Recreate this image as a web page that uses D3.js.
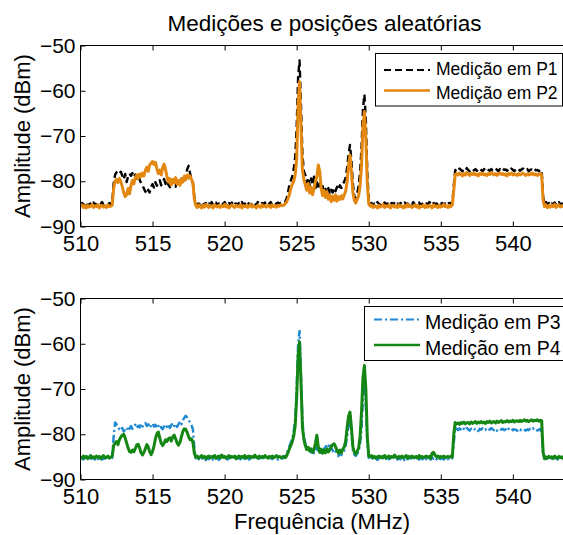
<!DOCTYPE html>
<html>
<head>
<meta charset="utf-8">
<script src="https://cdn.jsdelivr.net/npm/d3@7"></script>
<style>
  html, body { margin: 0; padding: 0; background: #fff; overflow: hidden; }
  svg { display: block; }
  text { font-family: "Liberation Sans", Arial, Helvetica, sans-serif; fill: #000; }
</style>
</head>
<body>
<svg id="chart" width="563" height="535"></svg>
<script>
// Spectrum sweep: 510.0 .. 544.0 MHz, one sample every 100 kHz
const freqStart = 510, freqStep = 0.1, sampleCount = 341;
const xTicks = [510, 515, 520, 525, 530, 535, 540];
const yTicks = [-50, -60, -70, -80, -90];

const chartTitle = "Medições e posições aleatórias";
const xLabel = "Frequência (MHz)";
const yLabel = "Amplitude (dBm)";
const seriesNames = ["Medição em P1", "Medição em P2", "Medição em P3", "Medição em P4"];

// Measured amplitude (dBm) at position P1
const p1 = [
-85.2,-84.8,-85.3,-85.0,-84.6,-85.4,-85.1,-84.9,-85.3,-84.7,-85.0,-85.4,-84.8,-85.2,-85.0,-84.6,-85.3,-84.9,-85.1,-85.4,-84.8,-85.0,-84.7,
-80.5,-78.6,-78.0,-77.8,-78.3,-77.9,-78.8,-79.6,-78.4,-80.2,
-79.0,-78.3,-78.8,-78.2,-79.1,-78.5,-79.4,-78.7,-79.6,-80.4,
-80.9,-81.6,-82.3,-82.8,-81.9,-82.5,-81.2,-80.6,-81.4,-80.2,
-81.0,-80.4,-79.8,-80.9,-80.1,-79.5,-80.6,-79.9,-80.8,-81.3,
-80.2,-79.6,-80.7,-81.2,-80.0,-80.9,-80.3,-79.4,-80.2,-79.1,
-78.6,-77.4,-76.6,-78.2,-79.5,-80.4,-83.5,
-84.6,-85.3,-84.9,-85.2,-84.7,-85.4,-85.0,-84.8,-85.3,-84.9,
-85.1,-84.6,-85.2,-85.0,-84.7,-85.4,-84.9,-85.2,-84.8,-85.1,
-84.6,-85.3,-85.0,-84.8,-85.2,-84.7,-85.4,-85.0,-84.9,-85.3,
-84.8,-85.1,-84.6,-85.2,-84.9,-85.3,-84.7,-85.0,-85.4,-84.8,
-85.1,-84.9,-85.3,-84.6,-85.0,-85.2,-84.8,-85.1,-84.7,-85.3,
-84.9,-85.0,-84.6,-85.2,-84.8,-85.1,-84.9,-84.7,-85.0,-84.8,
-84.9,-84.7,
-84.6,-83.8,-82.5,-80.6,-79.8,-78.9,-77.2,-74.5,-68.0,-57.0,
-53.3,-63.5,-74.0,-77.8,-78.6,-80.4,-79.2,-81.0,-79.4,-80.8,
-79.0,-81.5,-80.2,-81.8,-80.5,-82.0,-81.1,-82.6,-81.7,-82.4,
-81.5,-82.8,-81.9,-82.5,-81.4,-82.2,-81.2,-81.8,-80.9,-81.5,
-80.6,-80.1,-79.2,-77.0,-74.0,-72.0,-75.5,-80.5,-83.2,-83.8,
-82.6,-81.0,-78.0,-72.5,-64.0,-60.8,-66.5,-78.0,-84.2,
-85.1,-84.8,-85.3,-84.9,-85.2,-84.6,-85.0,-85.3,-84.8,-85.1,
-84.7,-85.2,-84.9,-85.4,-85.0,-84.8,-85.2,-84.6,-85.1,-84.9,
-85.3,-84.8,-85.0,-85.2,-84.7,-85.1,-84.9,-85.3,-84.8,-85.0,
-84.6,-85.2,-84.9,-85.1,-84.7,-85.3,-85.0,-84.8,-85.2,-84.9,
-85.1,-84.6,-85.0,-85.3,-84.8,-85.1,-84.9,-85.2,-84.7,-85.0,
-84.8,-85.2,-84.9,-85.1,-84.6,-85.0,-84.8,-84.9,
-81.0,-77.6,-77.3,-77.7,-77.2,-77.5,-77.8,-77.3,-77.6,-77.1,
-77.5,-77.8,-77.4,-77.2,-77.6,-77.3,-77.7,-77.4,-77.1,-77.5,
-77.8,-77.3,-77.6,-77.2,-77.5,-77.7,-77.3,-77.6,-77.4,-77.1,
-77.5,-77.8,-77.3,-77.6,-77.2,-77.5,-77.4,-77.7,-77.3,-77.6,
-77.2,-77.5,-77.8,-77.4,-77.6,-77.3,-77.7,-77.4,-77.2,-77.5,
-77.6,-77.3,-77.8,-77.5,-77.4,-77.7,-77.3,-77.6,-77.5,-77.8,
-77.4,-77.7,
-83.5,-85.0,-84.6,-85.2,-84.8,-85.3,-84.9,-85.1,-84.7,-85.2,
-85.0,-84.6,-85.3,-84.9,-85.1,-84.8,-85.2,-84.9,-85.0,-84.7
];

// Measured amplitude (dBm) at position P2
const p2 = [
-85.6,-85.2,-85.8,-85.4,-85.9,-85.3,-85.7,-85.5,-85.1,-85.8,
-85.4,-85.6,-85.2,-85.9,-85.5,-85.3,-85.7,-85.4,-85.8,-85.2,
-85.6,-85.5,-85.3,
-81.5,-80.0,-79.6,-80.3,-79.4,-80.1,-81.2,-82.5,-83.4,-83.0,
-81.6,-82.8,-81.0,-79.8,-80.6,-79.2,-78.6,-79.4,-78.4,-79.0,
-78.2,-78.8,-77.6,-76.9,-77.8,-76.4,-76.0,-75.6,-76.3,-75.8,
-77.2,-78.3,-77.5,-78.6,-77.0,-76.2,-77.4,-79.0,-80.2,-79.4,
-80.8,-79.6,-80.4,-79.2,-80.6,-79.8,-80.9,-79.5,-80.2,-78.9,
-79.7,-78.6,-79.3,-78.8,-79.6,-80.3,-84.0,
-85.4,-85.8,-85.2,-85.6,-85.9,-85.3,-85.7,-85.1,-85.5,-85.8,
-85.3,-85.6,-85.9,-85.2,-85.5,-85.7,-85.3,-85.8,-85.4,-85.6,
-85.1,-85.7,-85.4,-85.9,-85.5,-85.2,-85.6,-85.8,-85.3,-85.5,
-85.7,-85.2,-85.9,-85.4,-85.6,-85.3,-85.8,-85.5,-85.1,-85.7,
-85.4,-85.6,-85.9,-85.3,-85.5,-85.8,-85.2,-85.6,-85.4,-85.7,
-85.3,-85.5,-85.8,-85.2,-85.6,-85.4,-85.7,-85.3,-85.5,-85.2,
-85.4,-85.3,
-85.0,-84.6,-83.8,-82.9,-81.5,-80.6,-80.0,-78.5,-75.0,-63.0,
-58.0,-68.0,-77.5,-79.6,-80.8,-82.0,-80.5,-82.6,-81.3,-83.0,
-81.6,-80.2,-79.0,-76.4,-77.8,-81.5,-83.2,-82.0,-83.6,-82.3,
-84.0,-83.1,-84.5,-83.3,-84.2,-83.0,-84.4,-83.4,-84.0,-83.2,
-83.9,-83.0,-82.2,-80.0,-76.5,-74.2,-78.0,-82.5,-84.2,-84.8,
-84.0,-83.2,-81.0,-76.5,-68.0,-64.6,-70.5,-80.5,-85.0,
-85.5,-85.2,-85.8,-85.4,-85.6,-85.9,-85.3,-85.7,-85.5,-85.1,
-85.8,-85.4,-85.6,-85.2,-85.9,-85.5,-85.3,-85.7,-85.4,-85.8,
-85.2,-85.6,-85.5,-85.9,-85.3,-85.7,-85.1,-85.6,-85.4,-85.8,
-85.5,-85.2,-85.7,-85.3,-85.9,-85.5,-85.6,-85.2,-85.8,-85.4,
-85.7,-85.3,-85.5,-85.9,-85.2,-85.6,-85.4,-85.8,-85.3,-85.7,
-85.5,-85.1,-85.6,-85.4,-85.8,-85.3,-85.6,-85.2,
-82.0,-78.5,-78.3,-78.6,-78.2,-78.5,-78.8,-78.3,-78.6,-78.1,
-78.4,-78.7,-78.3,-78.5,-78.2,-78.6,-78.4,-78.8,-78.3,-78.5,
-78.2,-78.6,-78.4,-78.7,-78.3,-78.5,-78.1,-78.4,-78.6,-78.3,
-78.7,-78.4,-78.2,-78.5,-78.3,-78.6,-78.4,-78.8,-78.3,-78.5,
-78.2,-78.6,-78.4,-78.5,-78.7,-78.3,-78.6,-78.4,-78.2,-78.5,
-78.7,-78.4,-78.6,-78.3,-78.5,-78.2,-78.6,-78.4,-78.7,-78.5,
-78.3,-78.6,
-84.2,-85.6,-85.2,-85.8,-85.4,-85.7,-85.3,-85.6,-85.1,-85.8,
-85.5,-85.2,-85.7,-85.4,-85.6,-85.3,-85.8,-85.5,-85.2,-85.6
];

// Measured amplitude (dBm) at position P3
const p3 = [
-85.4,-85.1,-85.6,-85.2,-85.5,-85.0,-85.7,-85.3,-85.4,-85.1,
-85.6,-85.2,-85.5,-85.3,-85.0,-85.6,-85.4,-85.2,-85.7,-85.3,
-85.1,-85.5,-85.2,
-80.5,-77.4,-77.8,-78.3,-78.9,-79.2,-78.6,-79.4,-79.0,-78.5,
-79.3,-78.7,-78.2,-78.8,-78.4,-77.9,-78.6,-78.1,-78.5,-77.7,
-78.3,-78.0,-77.5,-78.2,-77.8,-78.6,-78.1,-77.6,-78.3,-77.9,
-78.7,-78.2,-77.8,-78.5,-78.9,-78.3,-77.8,-78.4,-77.9,-78.6,
-78.0,-77.5,-78.2,-77.7,-78.4,-77.8,-77.2,-77.8,-76.9,-76.4,
-75.9,-76.3,-76.8,-77.4,-78.0,-78.9,-83.0,
-85.3,-85.0,-85.5,-85.2,-85.6,-85.1,-85.4,-85.7,-85.2,-85.5,
-85.0,-85.3,-85.6,-85.2,-85.4,-85.1,-85.7,-85.3,-85.5,-85.0,
-85.4,-85.2,-85.6,-85.3,-85.1,-85.5,-85.4,-85.0,-85.6,-85.2,
-85.3,-85.5,-85.1,-85.7,-85.2,-85.4,-85.0,-85.6,-85.3,-85.2,
-85.5,-85.1,-85.4,-85.6,-85.2,-85.3,-85.0,-85.5,-85.4,-85.1,
-85.6,-85.3,-85.2,-85.5,-85.0,-85.4,-85.3,-85.6,-85.1,-85.2,
-85.4,-85.1,
-85.0,-84.4,-83.5,-82.6,-81.8,-80.9,-79.2,-76.5,-70.0,-60.0,
-57.2,-67.0,-77.0,-80.5,-82.0,-83.2,-82.6,-83.5,-84.0,-83.4,
-84.2,-83.6,-82.8,-83.8,-84.3,-83.7,-84.0,-83.2,-82.8,-82.2,
-82.6,-82.0,-82.9,-83.6,-84.2,-83.8,-84.4,-84.8,-84.2,-84.6,
-84.0,-83.6,-82.5,-80.5,-78.0,-76.5,-79.5,-83.5,-84.5,-84.8,
-84.3,-83.8,-82.0,-79.0,-72.0,-67.0,-74.0,-82.0,-85.2,
-85.3,-85.6,-85.1,-85.4,-85.2,-85.7,-85.3,-85.0,-85.5,-85.2,
-85.6,-85.4,-85.1,-85.5,-85.3,-85.7,-85.2,-85.4,-85.0,-85.6,
-85.3,-85.5,-85.1,-85.4,-85.7,-85.2,-85.5,-85.3,-85.0,-85.6,
-85.4,-85.2,-85.5,-85.1,-85.6,-85.3,-85.4,-85.7,-85.2,-85.5,
-85.0,-85.3,-85.6,-85.2,-85.4,-85.1,-85.5,-85.3,-85.7,-85.2,
-85.4,-85.6,-85.1,-85.3,-85.5,-85.2,-85.4,-85.3,
-82.0,-78.6,-78.8,-79.1,-78.7,-79.0,-79.3,-78.8,-79.1,-78.6,
-78.9,-79.2,-78.8,-79.0,-78.7,-79.1,-78.9,-79.3,-78.8,-79.0,
-78.7,-79.1,-78.9,-79.2,-78.8,-79.0,-78.6,-78.9,-79.1,-78.8,
-79.2,-78.9,-78.7,-79.0,-78.8,-79.1,-78.9,-79.3,-78.8,-79.0,
-78.7,-79.1,-78.9,-79.0,-79.2,-78.8,-79.1,-78.9,-78.7,-79.0,
-79.2,-78.9,-79.1,-78.8,-79.0,-78.7,-79.1,-78.9,-79.2,-79.0,
-78.8,-79.6,
-84.5,-85.2,-85.5,-85.1,-85.4,-85.6,-85.2,-85.5,-85.0,-85.3,
-85.6,-85.2,-85.4,-85.1,-85.5,-85.3,-85.6,-85.2,-85.4,-85.3
];

// Measured amplitude (dBm) at position P4
const p4 = [
-85.0,-85.3,-84.8,-85.2,-84.9,-85.4,-85.1,-84.7,-85.2,-85.0,
-85.3,-84.8,-85.1,-84.9,-85.4,-85.0,-84.7,-85.2,-85.1,-84.8,
-85.3,-85.0,-84.9,
-82.5,-82.0,-81.6,-82.3,-81.2,-80.6,-80.2,-80.0,-80.8,-81.9,
-83.0,-83.8,-84.0,-83.5,-83.9,-83.2,-82.4,-82.2,-83.0,-84.1,
-84.6,-84.0,-83.2,-82.3,-82.8,-83.9,-84.5,-83.8,-82.6,-81.0,
-79.9,-79.5,-80.8,-82.0,-82.5,-82.0,-81.2,-81.6,-81.0,-80.8,
-81.5,-80.6,-80.2,-81.0,-81.9,-82.4,-81.8,-80.6,-79.4,-78.8,
-78.9,-79.6,-80.5,-81.2,-81.0,-81.8,-84.2,
-85.1,-84.8,-85.3,-85.0,-84.7,-85.2,-84.9,-85.4,-85.0,-84.8,
-85.2,-84.9,-85.1,-84.7,-85.3,-85.0,-84.8,-85.2,-84.6,-85.1,
-84.9,-85.3,-85.0,-84.7,-85.2,-84.9,-85.1,-84.8,-85.4,-85.0,
-84.8,-85.2,-84.9,-85.1,-84.7,-85.3,-85.0,-84.8,-85.2,-84.9,
-85.1,-84.6,-85.0,-85.3,-84.8,-85.1,-84.9,-85.2,-84.7,-85.0,
-85.3,-84.9,-85.1,-84.8,-85.2,-85.0,-84.7,-85.1,-84.9,-85.2,
-85.0,-84.9,
-85.2,-84.8,-84.0,-83.2,-82.4,-81.6,-80.3,-78.0,-72.0,-62.5,
-59.6,-68.5,-78.5,-81.2,-82.5,-83.4,-82.9,-83.7,-83.2,-84.0,
-83.4,-82.0,-80.2,-82.8,-84.0,-83.3,-84.2,-83.5,-84.1,-83.2,
-83.9,-83.4,-82.7,-82.3,-82.1,-82.8,-83.6,-84.2,-83.5,-84.1,
-83.3,-82.8,-81.5,-78.5,-76.0,-75.1,-78.5,-82.8,-84.0,-84.4,
-83.8,-83.0,-80.5,-75.0,-67.5,-64.8,-70.0,-80.5,-84.8,
-85.0,-84.7,-85.2,-84.9,-85.3,-85.0,-84.8,-85.2,-84.9,-85.1,
-84.7,-85.3,-85.0,-84.8,-85.2,-84.9,-85.1,-84.6,-85.0,-85.3,
-84.9,-85.1,-84.8,-85.2,-85.0,-84.7,-85.3,-84.9,-85.1,-84.8,
-85.2,-85.0,-84.9,-85.3,-84.7,-85.1,-84.9,-85.2,-85.0,-84.8,
-85.1,-84.9,-85.3,-84.2,-84.0,-84.6,-85.0,-84.8,-85.2,-84.9,
-85.1,-84.8,-85.2,-85.0,-84.9,-85.1,-84.8,-85.0,
-80.0,-77.4,-77.7,-77.5,-77.8,-77.4,-77.6,-77.3,-77.7,-77.5,
-77.4,-77.7,-77.3,-77.6,-77.4,-77.2,-77.6,-77.3,-77.5,-77.2,
-77.5,-77.3,-77.6,-77.2,-77.4,-77.1,-77.5,-77.3,-77.2,-77.5,
-77.1,-77.4,-77.2,-77.0,-77.4,-77.2,-77.3,-77.0,-77.3,-77.1,
-77.2,-76.9,-77.3,-77.1,-77.0,-77.2,-76.9,-77.2,-77.0,-76.8,
-77.1,-76.9,-77.2,-77.0,-76.8,-77.1,-76.9,-77.0,-76.8,-77.1,
-76.9,-77.0,
-84.0,-85.4,-85.0,-85.3,-84.9,-85.2,-85.0,-85.4,-84.8,-85.1,
-85.3,-84.9,-85.2,-85.0,-85.4,-84.8,-85.1,-85.3,-84.9,-85.2
];

const freq = d3.range(sampleCount).map(i => +(freqStart + i * freqStep).toFixed(1));

const svg = d3.select("#chart");

const plotLeft = 80.5, plotRight = 570.5;
const x = d3.scaleLinear().domain([510, 544]).range([plotLeft, plotRight]);

const panels = [
  {
    top: 45.5, bottom: 226.5,
    series: [
      { values: p1, name: seriesNames[0], color: "#000000", width: 2.4, dash: "7,4" },
      { values: p2, name: seriesNames[1], color: "#E3870E", width: 3, dash: null }
    ],
    legend: { x: 375.5, y: 53.5, w: 187, h: 52.5, lineX0: 384, lineX1: 430, textX: 436,
              rows: [70, 90.5], baselines: [75, 98.5], fontSize: 17.5, lineWidths: [2, 2.5] }
  },
  {
    top: 298.5, bottom: 479.5,
    series: [
      { values: p3, name: seriesNames[2], color: "#1E88D0", width: 2.4, dash: "8,3,2,3" },
      { values: p4, name: seriesNames[3], color: "#148614", width: 3, dash: null }
    ],
    legend: { x: 364.5, y: 306.5, w: 205, h: 54, lineX0: 374, lineX1: 420, textX: 425,
              rows: [319.5, 345], baselines: [329, 354.5], fontSize: 19.5, lineWidths: [2, 2.5] }
  }
];

panels.forEach((p, k) => {
  const y = d3.scaleLinear().domain([-90, -50]).range([p.bottom, p.top]);
  const g = svg.append("g");

  const clipId = "clip" + k;
  svg.append("clipPath").attr("id", clipId)
    .append("rect")
    .attr("x", plotLeft).attr("y", p.top)
    .attr("width", plotRight - plotLeft).attr("height", p.bottom - p.top);

  // traces
  const line = d3.line()
    .x((d, i) => x(freq[i]))
    .y(d => y(d));

  const traces = g.append("g").attr("clip-path", `url(#${clipId})`);
  p.series.forEach(s => {
    traces.append("path")
      .datum(s.values)
      .attr("d", line)
      .attr("fill", "none")
      .attr("stroke", s.color)
      .attr("stroke-width", s.width)
      .attr("stroke-linejoin", "round")
      .attr("stroke-dasharray", s.dash);
  });

  // axes with inward ticks
  const axisStyle = sel => {
    sel.select(".domain").remove();
    sel.selectAll(".tick line").attr("stroke", "#000").attr("stroke-width", 1);
  };

  g.append("g")
    .attr("transform", `translate(0,${p.bottom})`)
    .call(d3.axisBottom(x).tickValues(xTicks).tickSize(-5).tickSizeOuter(0).tickPadding(9))
    .call(axisStyle)
    .call(a => a.selectAll(".tick text")
      .attr("font-size", 22).attr("font-family", null).attr("fill", "#000"));

  g.append("g")
    .attr("transform", `translate(0,${p.top})`)
    .call(d3.axisTop(x).tickValues(xTicks).tickSize(-5).tickSizeOuter(0).tickFormat(""))
    .call(axisStyle);

  g.append("g")
    .attr("transform", `translate(${plotLeft},0)`)
    .call(d3.axisLeft(y).tickValues(yTicks).tickSize(-5).tickSizeOuter(0).tickPadding(5))
    .call(axisStyle)
    .call(a => a.selectAll(".tick text")
      .attr("font-size", 21).attr("font-family", null).attr("fill", "#000"));

  // axes frame (right edge lies beyond the visible area)
  g.append("path")
    .attr("d", `M${plotRight},${p.top}H${plotLeft}V${p.bottom}H${plotRight}`)
    .attr("fill", "none").attr("stroke", "#000").attr("stroke-width", 1);

  // y-axis label
  g.append("text")
    .attr("transform", `translate(30,${(p.top + p.bottom) / 2}) rotate(-90)`)
    .attr("text-anchor", "middle")
    .attr("font-size", 22)
    .text(yLabel);

  // legend
  const L = p.legend;
  const lg = g.append("g");
  lg.append("rect")
    .attr("x", L.x).attr("y", L.y).attr("width", L.w).attr("height", L.h)
    .attr("fill", "#fff").attr("stroke", "#000").attr("stroke-width", 1);
  p.series.forEach((s, i) => {
    lg.append("line")
      .attr("x1", L.lineX0).attr("x2", L.lineX1)
      .attr("y1", L.rows[i]).attr("y2", L.rows[i])
      .attr("stroke", s.color).attr("stroke-width", L.lineWidths[i])
      .attr("stroke-dasharray", s.dash);
    lg.append("text")
      .attr("x", L.textX).attr("y", L.baselines[i])
      .attr("font-size", L.fontSize)
      .text(s.name);
  });
});

svg.append("text")
  .attr("x", 324.5).attr("y", 31)
  .attr("text-anchor", "middle")
  .attr("font-size", 22.5)
  .text(chartTitle);

svg.append("text")
  .attr("x", 322).attr("y", 529)
  .attr("text-anchor", "middle")
  .attr("font-size", 22)
  .text(xLabel);
</script>
</body>
</html>
